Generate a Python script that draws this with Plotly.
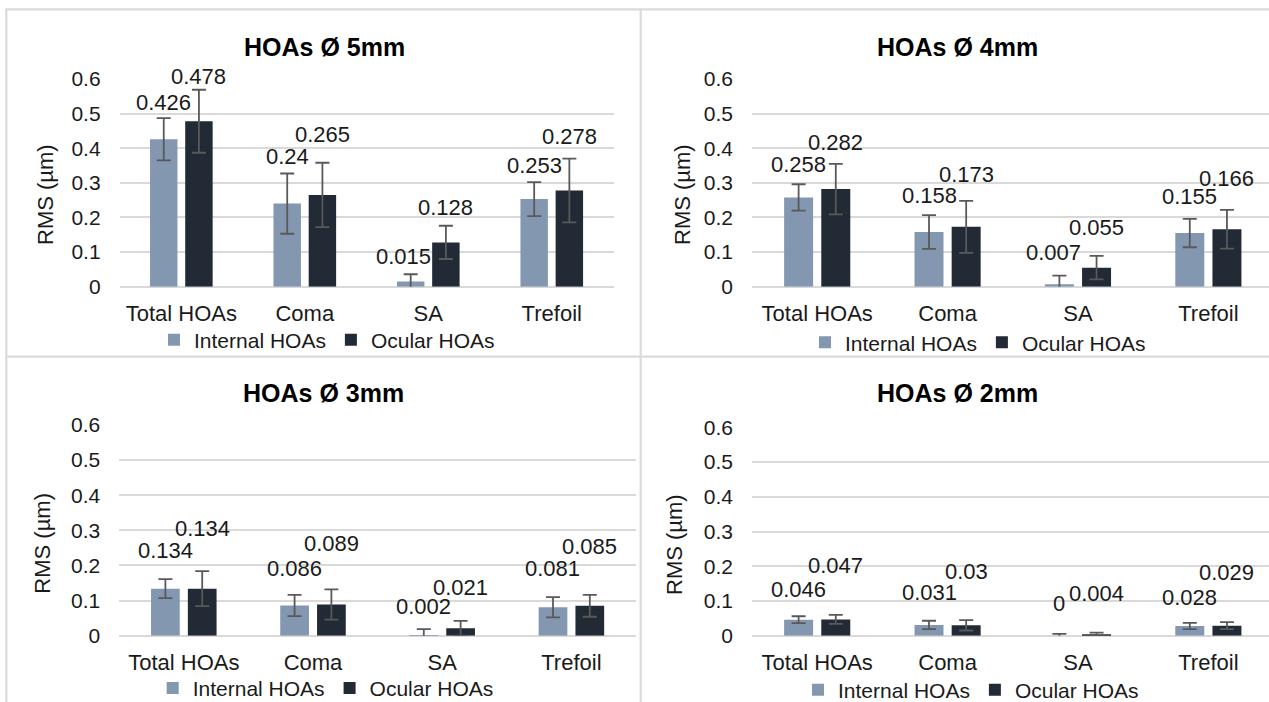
import plotly.graph_objects as go

# ---- data -------------------------------------------------------------
CATEGORIES = ["Total HOAs", "Coma", "SA", "Trefoil"]
SERIES_NAMES = ["Internal HOAs", "Ocular HOAs"]
PANEL_TITLES = ["HOAs Ø 5mm", "HOAs Ø 4mm", "HOAs Ø 3mm", "HOAs Ø 2mm"]
Y_TICKS = [0, 0.1, 0.2, 0.3, 0.4, 0.5, 0.6]

INTERNAL_5MM = [0.426, 0.24, 0.015, 0.253]
INTERNAL_5MM_SD = [0.061, 0.087, 0.021, 0.049]
OCULAR_5MM = [0.478, 0.265, 0.128, 0.278]
OCULAR_5MM_SD = [0.091, 0.093, 0.048, 0.092]

INTERNAL_4MM = [0.258, 0.158, 0.007, 0.155]
INTERNAL_4MM_SD = [0.038, 0.049, 0.025, 0.041]
OCULAR_4MM = [0.282, 0.173, 0.055, 0.166]
OCULAR_4MM_SD = [0.073, 0.075, 0.034, 0.056]

INTERNAL_3MM = [0.134, 0.086, 0.002, 0.081]
INTERNAL_3MM_SD = [0.027, 0.030, 0.017, 0.029]
OCULAR_3MM = [0.134, 0.089, 0.021, 0.085]
OCULAR_3MM_SD = [0.050, 0.043, 0.021, 0.031]

INTERNAL_2MM = [0.046, 0.031, 0, 0.028]
INTERNAL_2MM_SD = [0.010, 0.012, 0.005, 0.009]
OCULAR_2MM = [0.047, 0.03, 0.004, 0.029]
OCULAR_2MM_SD = [0.013, 0.015, 0.005, 0.010]

PANEL_DATA = [
    ((INTERNAL_5MM, INTERNAL_5MM_SD), (OCULAR_5MM, OCULAR_5MM_SD)),
    ((INTERNAL_4MM, INTERNAL_4MM_SD), (OCULAR_4MM, OCULAR_4MM_SD)),
    ((INTERNAL_3MM, INTERNAL_3MM_SD), (OCULAR_3MM, OCULAR_3MM_SD)),
    ((INTERNAL_2MM, INTERNAL_2MM_SD), (OCULAR_2MM, OCULAR_2MM_SD)),
]

# ---- styling ----------------------------------------------------------
W, H = 1269, 702
FONT = "Liberation Sans, Arial, sans-serif"
TEXT = "#1a1a1a"
COLORS = ["#8497B0", "#222A35"]
ERR_COLOR = "#595959"
GRID = "#D9D9D9"
FRAME = "#DADADA"
BARGAP = 0.43
BARGROUPGAP = 0.22

# pixel layout of each panel: plot box, right end of x range, title / legend / axis-title anchors
PANELS = [
    dict(box=(119.6, 613.5, 79.0, 286.7), xmax=3.5, title=(324, 46.7),
         legend=(327, 340), ytitle=(45, 195)),
    dict(box=(752.0, 1269.0, 79.0, 286.7), xmax=3.465, title=(957.6, 46.7),
         legend=(978, 342.7), ytitle=(682, 195)),
    dict(box=(119.2, 636.0, 425.0, 635.7), xmax=3.5, title=(323.5, 393.3),
         legend=(325.7, 688.3), ytitle=(42.4, 543.3)),
    dict(box=(752.0, 1269.0, 427.3, 635.7), xmax=3.465, title=(957.6, 393.3),
         legend=(971, 690), ytitle=(673.8, 544.2)),
]

# value labels sit above the error-bar caps; lift in px per panel / series / category
LABEL_LIFT = [
    ([16, 17, 18, 17], [13, 28, 18, 22]),
    ([20, 20, 23, 22], [21, 26, 28, 31]),
    ([29, 26, 23, 29], [43, 46, 33, 48]),
    ([27, 28, 30, 25], [49, 49, 39, 50]),
]
LABEL_NUDGE_X = [
    ([0, 0, -7, 0], [0, 0, 0, 0]),
    ([0, 0, -6, 0], [0, 0, 0, 0]),
    ([0, 0, 0, 0], [0, 0, 0, 0]),
    ([0, 0, 0, 0], [0, 0, 0, 0]),
]


def px_x(v):
    return v / W


def px_y(v):
    return 1 - v / H


fig = go.Figure()
annotations = []
layout = {}
slot = (1 - BARGAP) / 2
centers = [-slot / 2, slot / 2]
xs = list(range(len(CATEGORIES)))

for p, (panel, series) in enumerate(zip(PANELS, PANEL_DATA)):
    n = p + 1
    sfx = "" if n == 1 else str(n)
    xa, ya = "x" + sfx, "y" + sfx
    leg = "legend" + sfx
    for s, (vals, sds) in enumerate(series):
        fig.add_trace(go.Bar(
            x=xs, y=vals, name=SERIES_NAMES[s], marker_color=COLORS[s],
            marker_line_width=0,
            error_y=dict(type="data", array=sds, visible=True, color=ERR_COLOR,
                         thickness=1.8, width=7),
            xaxis=xa, yaxis=ya, legend=leg, offsetgroup=str(s),
            hoverinfo="skip",
        ))
        for i, (v, e) in enumerate(zip(vals, sds)):
            annotations.append(dict(
                x=i + centers[s], y=v + e, xref=xa, yref=ya,
                text=f"{v:g}", showarrow=False, yanchor="middle",
                yshift=LABEL_LIFT[p][s][i], xshift=LABEL_NUDGE_X[p][s][i],
                font=dict(family=FONT, size=22, color=TEXT),
            ))

    x0, x1, y0, y1 = panel["box"]
    layout["xaxis" + sfx] = dict(
        domain=[px_x(x0), px_x(x1)], anchor=ya, range=[-0.5, panel["xmax"]],
        tickvals=xs, ticktext=CATEGORIES, showgrid=False, zeroline=False,
        showline=False, ticks="", ticklabelstandoff=11,
        tickfont=dict(family=FONT, size=22, color=TEXT), fixedrange=True,
    )
    layout["yaxis" + sfx] = dict(
        domain=[px_y(y1), px_y(y0)], anchor=xa, range=[0, 0.6],
        tickvals=Y_TICKS, ticktext=[f"{t:g}" for t in Y_TICKS],
        showgrid=True, gridcolor=GRID, gridwidth=1.8,
        zeroline=True, zerolinecolor=GRID, zerolinewidth=1.8,
        showline=False, ticks="", ticklabelstandoff=18,
        tickfont=dict(family=FONT, size=21, color=TEXT), fixedrange=True,
    )
    lx, ly = panel["legend"]
    layout[leg] = dict(
        orientation="h", x=px_x(lx), y=px_y(ly), xanchor="center",
        yanchor="middle", font=dict(family=FONT, size=21, color=TEXT),
        bgcolor="rgba(0,0,0,0)", itemwidth=30, traceorder="normal",
    )
    tx, ty = panel["title"]
    annotations.append(dict(
        x=px_x(tx), y=px_y(ty), xref="paper", yref="paper", showarrow=False,
        text=f"<b>{PANEL_TITLES[p]}</b>", xanchor="center", yanchor="middle",
        font=dict(family=FONT, size=25, color="#000000"),
    ))
    yx, yy = panel["ytitle"]
    annotations.append(dict(
        x=px_x(yx), y=px_y(yy), xref="paper", yref="paper", showarrow=False,
        text="RMS (µm)", textangle=-90, xanchor="center", yanchor="middle",
        font=dict(family=FONT, size=22, color=TEXT),
    ))

# light frame lines separating the four panels
frame_lines = [
    (5.5, 9.3, W, 9.3),
    (6.3, 9.3, 6.3, H),
    (640.7, 9.3, 640.7, H),
    (6.3, 356.7, W, 356.7),
]
shapes = [
    dict(type="line", xref="paper", yref="paper", x0=px_x(a), y0=px_y(b),
         x1=px_x(c), y1=px_y(d), line=dict(color=FRAME, width=2.2), layer="below")
    for a, b, c, d in frame_lines
]

fig.update_layout(
    width=W, height=H,
    margin=dict(l=0, r=0, t=0, b=0, pad=0, autoexpand=False),
    paper_bgcolor="white", plot_bgcolor="rgba(0,0,0,0)",
    barmode="group", bargap=BARGAP, bargroupgap=BARGROUPGAP,
    annotations=annotations, shapes=shapes, showlegend=True,
    font=dict(family=FONT, color=TEXT),
    **layout,
)

fig.write_html("out.html", config={"displayModeBar": False})
